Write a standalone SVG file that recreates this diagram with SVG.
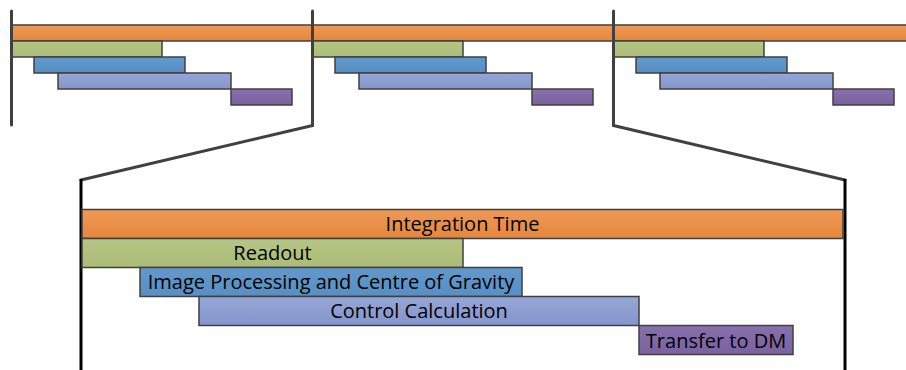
<svg xmlns="http://www.w3.org/2000/svg" width="906" height="370" viewBox="0 0 906 370">
<defs>
<linearGradient id="gO" x1="0" y1="0" x2="0" y2="1"><stop offset="0" stop-color="#EE9A57"/><stop offset="1" stop-color="#E5863A"/></linearGradient>
<linearGradient id="gG" x1="0" y1="0" x2="0" y2="1"><stop offset="0" stop-color="#B6C585"/><stop offset="1" stop-color="#AABD76"/></linearGradient>
<linearGradient id="gB" x1="0" y1="0" x2="0" y2="1"><stop offset="0" stop-color="#6498CB"/><stop offset="1" stop-color="#5590C5"/></linearGradient>
<linearGradient id="gL" x1="0" y1="0" x2="0" y2="1"><stop offset="0" stop-color="#96A6D6"/><stop offset="1" stop-color="#8495CB"/></linearGradient>
<linearGradient id="gP" x1="0" y1="0" x2="0" y2="1"><stop offset="0" stop-color="#8870AC"/><stop offset="1" stop-color="#7A62A0"/></linearGradient>
</defs>
<style>
.bar{stroke:#404040;stroke-width:1.5}
.o{fill:url(#gO)}.g{fill:url(#gG)}.b{fill:url(#gB)}.l{fill:url(#gL)}.p{fill:url(#gP)}
.ln{fill:none;stroke:#404040;stroke-width:3;stroke-linecap:round;stroke-linejoin:miter}
.lk{fill:none;stroke:#000;stroke-width:3}
text{font-family:"Open Sans","Liberation Sans",sans-serif;font-size:20px;fill:#000;text-anchor:middle}
</style>
<g id="cycles">
<rect class="bar o" x="12" y="25" width="900" height="16"/>
<g id="cycle1">
<rect class="bar g" x="12" y="41" width="150" height="16"/>
<rect class="bar b" x="34" y="57" width="151" height="16"/>
<rect class="bar l" x="58" y="73" width="173" height="16"/>
<rect class="bar p" x="231" y="89" width="61" height="16"/>
</g>
<g id="cycle2">
<rect class="bar g" x="313" y="41" width="150" height="16"/>
<rect class="bar b" x="335" y="57" width="151" height="16"/>
<rect class="bar l" x="359" y="73" width="173" height="16"/>
<rect class="bar p" x="532" y="89" width="61" height="16"/>
</g>
<g id="cycle3">
<rect class="bar g" x="614" y="41" width="150" height="16"/>
<rect class="bar b" x="636" y="57" width="151" height="16"/>
<rect class="bar l" x="660" y="73" width="173" height="16"/>
<rect class="bar p" x="833" y="89" width="61" height="16"/>
</g>
</g>
<g id="connectors">
<path class="ln" d="M11.5 11V125"/>
<path class="ln" d="M312.5 11V125.5L81 180"/>
<path class="ln" d="M613.5 11V125.5L845 180"/>
<path class="lk" d="M81 179V370"/>
<path class="lk" d="M845 179V370"/>
</g>
<g id="integration">
<rect class="bar o" x="82" y="209.5" width="761" height="29"/>
<text x="462.5" y="231">Integration Time</text>
</g>
<g id="readout">
<rect class="bar g" x="82" y="238.5" width="381" height="29"/>
<text x="272.5" y="260">Readout</text>
</g>
<g id="imageproc">
<rect class="bar b" x="140" y="267.5" width="382" height="29"/>
<text x="331" y="289">Image Processing and Centre of Gravity</text>
</g>
<g id="control">
<rect class="bar l" x="199" y="296.5" width="440" height="29"/>
<text x="419" y="318">Control Calculation</text>
</g>
<g id="transfer">
<rect class="bar p" x="639" y="325.5" width="154" height="29"/>
<text x="716" y="347.5">Transfer to DM</text>
</g>
</svg>
